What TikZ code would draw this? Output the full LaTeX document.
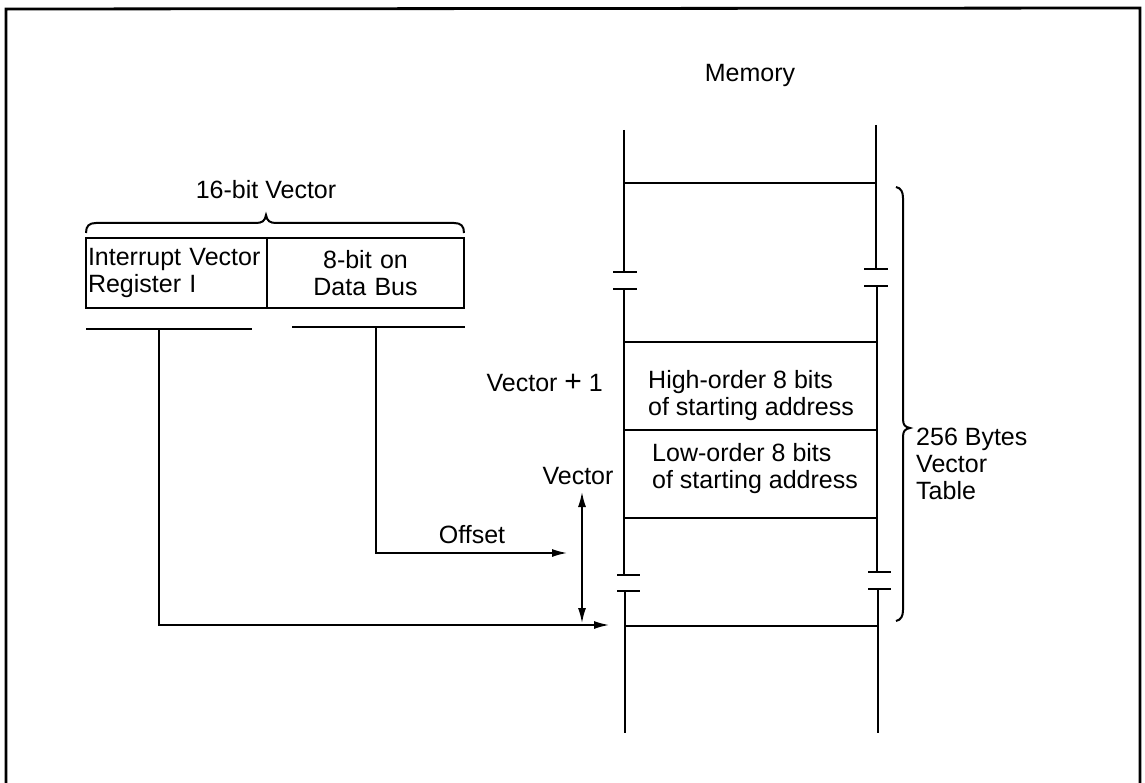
\documentclass[tikz,border=0pt]{standalone}
\usepackage{fontspec}
\setmainfont{Liberation Sans}
\usetikzlibrary{arrows.meta}
\begin{document}
\begin{tikzpicture}[x=1pt,y=-1pt,
  lbl/.style={font=\fontsize{25}{27}\selectfont, inner sep=0pt},
  thick line/.style={line width=2.8pt},
  conn/.style={line width=1.5pt},
  tipend/.style={-{Latex[length=15pt,width=8pt]}},
  bothtips/.style={{Latex[length=15pt,width=8pt]}-{Latex[length=15pt,width=8pt]}},
  bracepath/.style={line width=2pt},
  cell/.style={draw, line width=2.8pt, minimum height=70pt, lbl}]
\useasboundingbox (0,0) rectangle (1145,783);
% outer frame (open at bottom)
\draw[thick line] (6,783) -- (6,9) -- (1140,8) -- (1140,783);

% titles
\node[lbl] (memtitle) at (750,75) {Memory};
\node[lbl] (vectitle) at (266,190) {16-bit Vector};

% brace above vector register
\draw[bracepath] (86,233) .. controls (86,226) and (89,223) .. (96,223)
  -- (256,223) .. controls (262,223) and (265,221) .. (266,215)
  .. controls (267,221) and (270,223) .. (276,223)
  -- (454,223) .. controls (461,223) and (464,226) .. (464,233);

% 16-bit vector cells
\node[cell, minimum width=181pt, text width=177pt, inner xsep=2pt, align=left] (ivr) at (176.5,273)
  {Interrupt Vector\\Register I};
\node[cell, minimum width=197pt, text width=191pt, inner xsep=3pt, align=center] (dbus) at (365.5,273)
  {8-bit on\\Data Bus};

% underlines
\draw[line width=2.4pt] (86,329) -- (252,329);
\draw[line width=2.4pt] (292,327) -- (465,327);

% memory columns
\draw[thick line] (624,130) -- (624,272);
\draw[thick line] (613,272) -- (637,272);
\draw[thick line] (613,289) -- (637,289);
\draw[thick line] (624,289) -- (624,575);
\draw[thick line] (617,575) -- (640,575);
\draw[thick line] (617,591) -- (640,591);
\draw[thick line] (625,591) -- (625,733);

\draw[thick line] (876,125) -- (876,269);
\draw[thick line] (864,269) -- (888,269);
\draw[thick line] (864,286) -- (888,286);
\draw[thick line] (877,286) -- (877,572);
\draw[thick line] (868,572) -- (891,572);
\draw[thick line] (868,589) -- (891,589);
\draw[thick line] (878,589) -- (878,733);

% memory row separators
\draw[thick line] (624,183) -- (876,183);
\draw[thick line] (624,342) -- (877,342);
\draw[thick line] (624,430) -- (877,430);
\draw[thick line] (624,518) -- (877,518);
\draw[thick line] (625,626) -- (878,626);

% memory row texts
\node[lbl, anchor=west, align=left] (hi) at (648,396) {High-order 8 bits\\of starting address};
\node[lbl, anchor=west, align=left] (lo) at (652,469) {Low-order 8 bits\\of starting address};

% right brace
\draw[bracepath] (896,187) .. controls (901,188) and (903,192) .. (903,198)
  -- (903,419) .. controls (903,425) and (905,427) .. (910,428)
  .. controls (905,429) and (903,431) .. (903,437)
  -- (903,610) .. controls (903,616) and (901,620) .. (896,621);
\node[lbl, anchor=west, align=left] (tbl) at (916,464) {256 Bytes\\Vector\\Table};

% labels
\node[lbl, anchor=east] (vplus) at (603,383) {Vector \raisebox{0pt}{\fontsize{30}{30}\selectfont +} 1};
\node[lbl] (vec) at (578,476) {Vector};
\node[lbl] (offset) at (472,535) {Offset};

% connectors
\coordinate (regsrc) at (159,329);
\coordinate (bussrc) at (376,327);
\coordinate (offtip) at (567,553);
\coordinate (basetip) at (609,625);
\coordinate (vtop) at (582,492);
\coordinate (vbot) at (582,623);
\draw[conn, tipend] (regsrc) |- (basetip);
\draw[conn, tipend] (bussrc) |- (offtip);
\draw[conn, bothtips] (vtop) -- (vbot);
\end{tikzpicture}
\end{document}
